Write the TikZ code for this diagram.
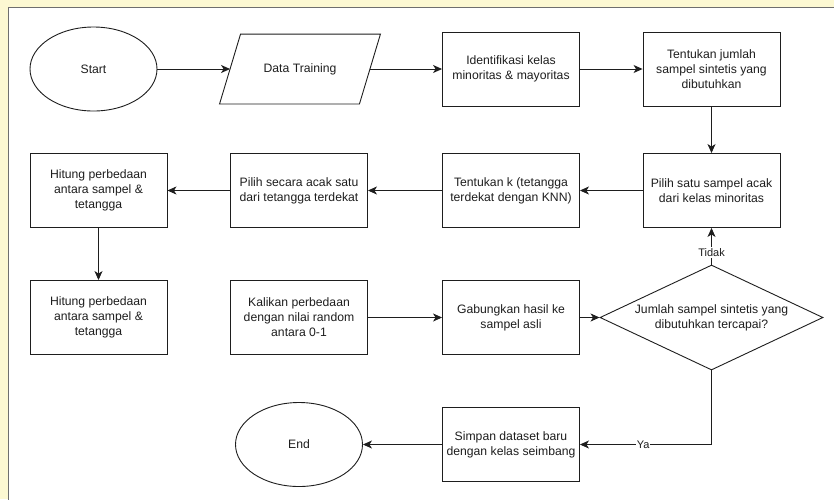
\documentclass[tikz,border=0pt]{standalone}
\usepackage{fontspec}
\setmainfont{Liberation Sans}
\usetikzlibrary{arrows.meta,shapes.geometric}

\definecolor{ink}{HTML}{1E1E1E}
\definecolor{framegray}{HTML}{6E6E6E}
\definecolor{paleyellow}{HTML}{FCF8D2}

\tikzset{
  base/.style={draw=ink, line width=0.9pt, text=ink, font=\fontsize{12.2}{15}\selectfont, align=center, inner sep=0pt},
  procbox/.style={base, rectangle, minimum width=137, minimum height=74},
  terminal/.style={base, ellipse, minimum width=127, minimum height=84},
  decision/.style={base, diamond, aspect=2.12, minimum width=223, minimum height=105},
  iotext/.style={base, draw=none, minimum width=160, minimum height=69},
  flow/.style={draw=ink, line width=0.9pt, -{Stealth[length=9pt,width=8pt,inset=2.5pt]}},
  edgelabel/.style={fill=white, text=ink, font=\fontsize{11}{13}\selectfont, inner sep=1pt}
}

\begin{document}
\begin{tikzpicture}[x=1pt, y=-1pt]
  % page and canvas frame
  \fill[paleyellow] (0,0) rectangle (834,499);
  \useasboundingbox (0,0) rectangle (834,499);
  \fill[white] (8.5,7.5) rectangle (840,505);
  \draw[framegray, line width=1.6pt] (8.5,505) -- (8.5,7.5) -- (840,7.5);

  % row 1
  \node[terminal] (start) at (93.5,69) {Start};
  \node[iotext] (dt) at (300,69) {Data Training};
  \draw[base] (dt.south west) -- ([xshift=21]dt.north west) -- (dt.north east) -- ([xshift=-21]dt.south east) -- cycle;
  \coordinate (dtin) at ([xshift=10.5]dt.west);
  \coordinate (dtout) at ([xshift=-10.5]dt.east);
  \node[procbox] (ident) at (511,69) {Identifikasi kelas\\minoritas \& mayoritas};
  \node[procbox] (jumlah) at (711.5,69) {Tentukan jumlah\\sampel sintetis yang\\dibutuhkan};

  % row 2
  \node[procbox] (hitung1) at (98.5,190.5) {Hitung perbedaan\\antara sampel \&\\tetangga};
  \node[procbox] (pilihacak) at (299,190.5) {Pilih secara acak satu\\dari tetangga terdekat};
  \node[procbox] (knn) at (511,190.5) {Tentukan k (tetangga\\terdekat dengan KNN)};
  \node[procbox] (pilihsatu) at (711.5,190.5) {Pilih satu sampel acak\\dari kelas minoritas};

  % row 3
  \node[procbox] (hitung2) at (98.5,317.5) {Hitung perbedaan\\antara sampel \&\\tetangga};
  \node[procbox] (kalikan) at (299,317.5) {Kalikan perbedaan\\dengan nilai random\\antara 0-1};
  \node[procbox] (gabung) at (511,317.5) {Gabungkan hasil ke\\sampel asli};
  \node[decision] (cek) at (711.5,317.5) {Jumlah sampel sintetis yang\\dibutuhkan tercapai?};

  % row 4
  \node[terminal] (end) at (299,444.5) {End};
  \node[procbox] (simpan) at (511,444.5) {Simpan dataset baru\\dengan kelas seimbang};

  % connectors
  \draw[flow] (start) -- (dtin);
  \draw[flow] (dtout) -- (ident);
  \draw[flow] (ident) -- (jumlah);
  \draw[flow] (jumlah) -- (pilihsatu);
  \draw[flow] (pilihsatu) -- (knn);
  \draw[flow] (knn) -- (pilihacak);
  \draw[flow] (pilihacak) -- (hitung1);
  \draw[flow] (hitung1) -- (hitung2);
  \draw[flow] (kalikan) -- (gabung);
  \draw[flow] (gabung) -- (cek);
  \draw[flow] (cek.north) -- (pilihsatu.south) node[edgelabel, pos=0.33] {Tidak};
  \draw[flow] (cek.south) |- (simpan.east) node[edgelabel, pos=0.76] {Ya};
  \draw[flow] (simpan) -- (end);
\end{tikzpicture}
\end{document}
